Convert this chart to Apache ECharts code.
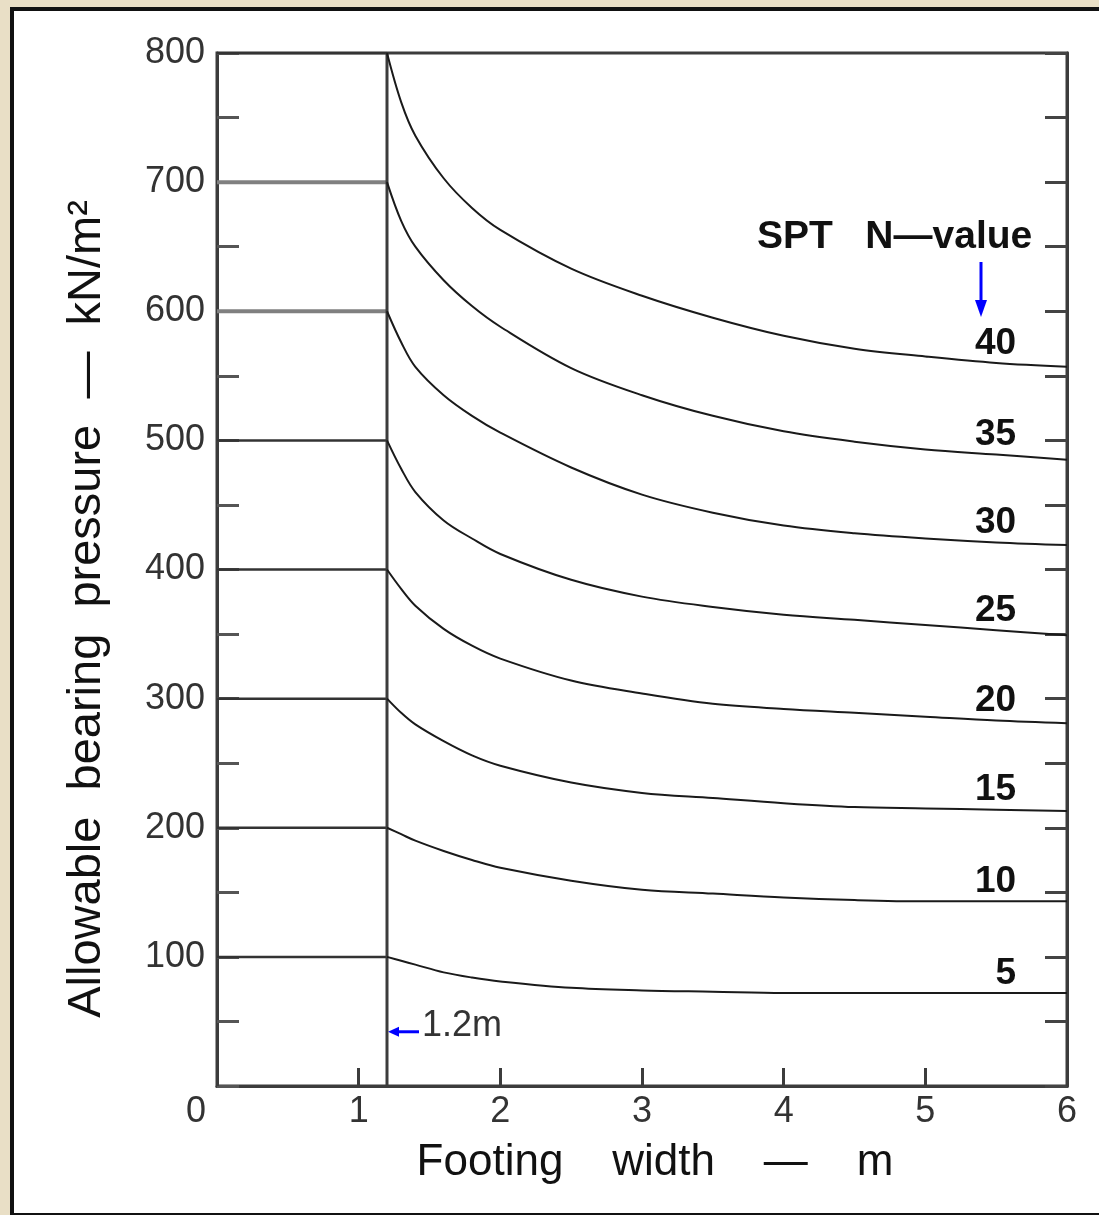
<!DOCTYPE html>
<html>
<head>
<meta charset="utf-8">
<title>Allowable bearing pressure - footing width</title>
<script src="https://cdn.jsdelivr.net/npm/echarts@6.0.0/dist/echarts.min.js"></script>
<style>
    html, body { margin: 0; padding: 0; background: #e9dfc6; overflow: hidden; }
    .frame { position: absolute; left: 10px; top: 7px; width: 1200px; height: 1202px; background: #fff; border: 4px solid #111; }
    #main { position: absolute; left: 0; top: 0; width: 1099px; height: 1215px; }
</style>
</head>
<body>
<div class="frame"></div>
<div id="main"></div>
<script>
    var widths = [1.2, 1.3, 1.4, 1.6, 1.8, 2.0, 2.5, 3.0, 3.5, 4.0, 4.5, 5.0, 5.5, 6.0];

    // allowable bearing pressure, kN/m2, one list per SPT N-value
    var nValues = [5, 10, 15, 20, 25, 30, 35, 40];
    var q5  = [100,  97,  94,  88,  84,  81,  76,  74,  73,  72,  72,  72,  72,  72];
    var q10 = [200, 195, 190, 182, 175, 169, 159, 152, 149, 146, 144, 143, 143, 143];
    var q15 = [300, 289, 280, 267, 256, 248, 235, 227, 223, 219, 216, 215, 214, 213];
    var q20 = [400, 385, 372, 354, 341, 331, 314, 304, 296, 292, 289, 286, 283, 281];
    var q25 = [500, 478, 460, 438, 424, 412, 392, 379, 371, 365, 361, 357, 353, 349];
    var q30 = [600, 576, 557, 535, 519, 506, 479, 458, 444, 434, 428, 424, 421, 419];
    var q35 = [700, 670, 650, 624, 604, 588, 556, 535, 519, 507, 499, 493, 489, 485];
    var q40 = [800, 762, 736, 703, 680, 663, 633, 612, 595, 581, 571, 565, 560, 557];

    // pressure is constant below this width
    var limitWidth = 1.2;
    var flatLevels = [100, 200, 300, 400, 500, 600, 700, 800];

    var font = '"Liberation Sans", Arial, sans-serif';
    var ink = '#3c3c3c';

    var chart = echarts.init(document.getElementById('main'), null, {renderer: 'canvas'});

    var curves = [q5, q10, q15, q20, q25, q30, q35, q40];
    var labelAt = widths.indexOf(5.5);
    var series = [];

    flatLevels.forEach(function (lvl) {
        var grey = lvl === 600 || lvl === 700;
        series.push({
            type: 'line',
            symbol: 'none',
            silent: true,
            data: [[0, lvl], [limitWidth, lvl]],
            lineStyle: {color: grey ? '#808080' : '#333', width: grey ? 4 : 2.5}
        });
    });

    series.push({
        type: 'line',
        symbol: 'none',
        silent: true,
        data: [[limitWidth, 0], [limitWidth, 800]],
        lineStyle: {color: ink, width: 3}
    });

    curves.forEach(function (q, i) {
        series.push({
            type: 'line',
            smooth: 0.35,
            symbol: 'circle',
            symbolSize: 0,
            silent: true,
            lineStyle: {color: '#1a1a1a', width: 2},
            data: widths.map(function (b, j) {
                var item = {value: [b, q[j]]};
                if (j === labelAt) {
                    item.label = {
                        show: true,
                        formatter: String(nValues[i]),
                        position: 'top',
                        distance: 1,
                        align: 'right',
                        offset: [20, 0],
                        fontSize: 37,
                        fontWeight: 'bold',
                        fontFamily: font,
                        color: '#111'
                    };
                }
                return item;
            })
        });
    });

    var option = {
        backgroundColor: 'transparent',
        animation: false,
        grid: {
            left: 217, right: 32, top: 53, bottom: 129,
            show: true, borderColor: ink, borderWidth: 3
        },
        xAxis: {
            type: 'value',
            min: 0, max: 6, interval: 1,
            name: 'Footing    width    —    m',
            nameLocation: 'middle',
            nameGap: 55,
            nameTextStyle: {fontSize: 44, fontFamily: font, color: '#111', padding: [0, 0, 0, 26]},
            axisLine: {show: true, lineStyle: {color: ink, width: 3}},
            axisTick: {show: true, inside: true, length: 18, lineStyle: {color: ink, width: 3}},
            axisLabel: {
                fontSize: 36, fontFamily: font, color: '#333', margin: 8,
                formatter: function (v) {
                    return v === 0 ? '{zero|0}' : String(v);
                },
                rich: {
                    zero: {fontSize: 36, fontFamily: font, color: '#333', padding: [0, 42, 0, 0]}
                }
            },
            splitLine: {show: false}
        },
        yAxis: [{
            type: 'value',
            position: 'left',
            min: 0, max: 800, interval: 50,
            name: 'Allowable  bearing  pressure  —  kN/m²',
            nameLocation: 'middle',
            nameRotate: 90,
            nameGap: 106,
            nameTextStyle: {fontSize: 47, fontFamily: font, color: '#111', padding: [0, 79, 0, 0]},
            axisLine: {show: true, lineStyle: {color: ink, width: 3}},
            axisTick: {show: true, inside: true, length: 22, lineStyle: {color: '#555', width: 3}},
            axisLabel: {
                fontSize: 36, fontFamily: font, color: '#333', margin: 12,
                formatter: function (v) {
                    return v > 0 && v % 100 === 0 ? String(v) : '';
                }
            },
            splitLine: {show: false}
        }, {
            type: 'value',
            position: 'right',
            min: 0, max: 800, interval: 50,
            axisLine: {show: true, lineStyle: {color: ink, width: 3}},
            axisTick: {show: true, inside: true, length: 22, lineStyle: {color: '#444', width: 3}},
            axisLabel: {show: false},
            splitLine: {show: false}
        }],
        series: series
    };

    chart.setOption(option);

    // blue pointers and notes
    var p = chart.convertToPixel({gridIndex: 0}, [limitWidth, 42]);
    chart.setOption({
        graphic: [
            {
                type: 'text', silent: true,
                style: {text: 'SPT   N—value', x: 757, y: 237, textVerticalAlign: 'middle',
                    font: 'bold 39px ' + font, fill: '#111'}
            },
            {
                type: 'line', silent: true,
                shape: {x1: 981, y1: 262, x2: 981, y2: 304},
                style: {stroke: '#0000ff', lineWidth: 3}
            },
            {
                type: 'polygon', silent: true,
                shape: {points: [[975, 300], [987, 300], [981, 317]]},
                style: {fill: '#0000ff'}
            },
            {
                type: 'line', silent: true,
                shape: {x1: p[0] + 8, y1: p[1], x2: p[0] + 32, y2: p[1]},
                style: {stroke: '#0000ff', lineWidth: 3}
            },
            {
                type: 'polygon', silent: true,
                shape: {points: [[p[0] + 1, p[1]], [p[0] + 12, p[1] - 5], [p[0] + 12, p[1] + 5]]},
                style: {fill: '#0000ff'}
            },
            {
                type: 'text', silent: true,
                style: {text: '1.2m', x: p[0] + 35, y: p[1] - 6, textVerticalAlign: 'middle',
                    font: '36px ' + font, fill: '#333'}
            }
        ]
    });
</script>
</body>
</html>
